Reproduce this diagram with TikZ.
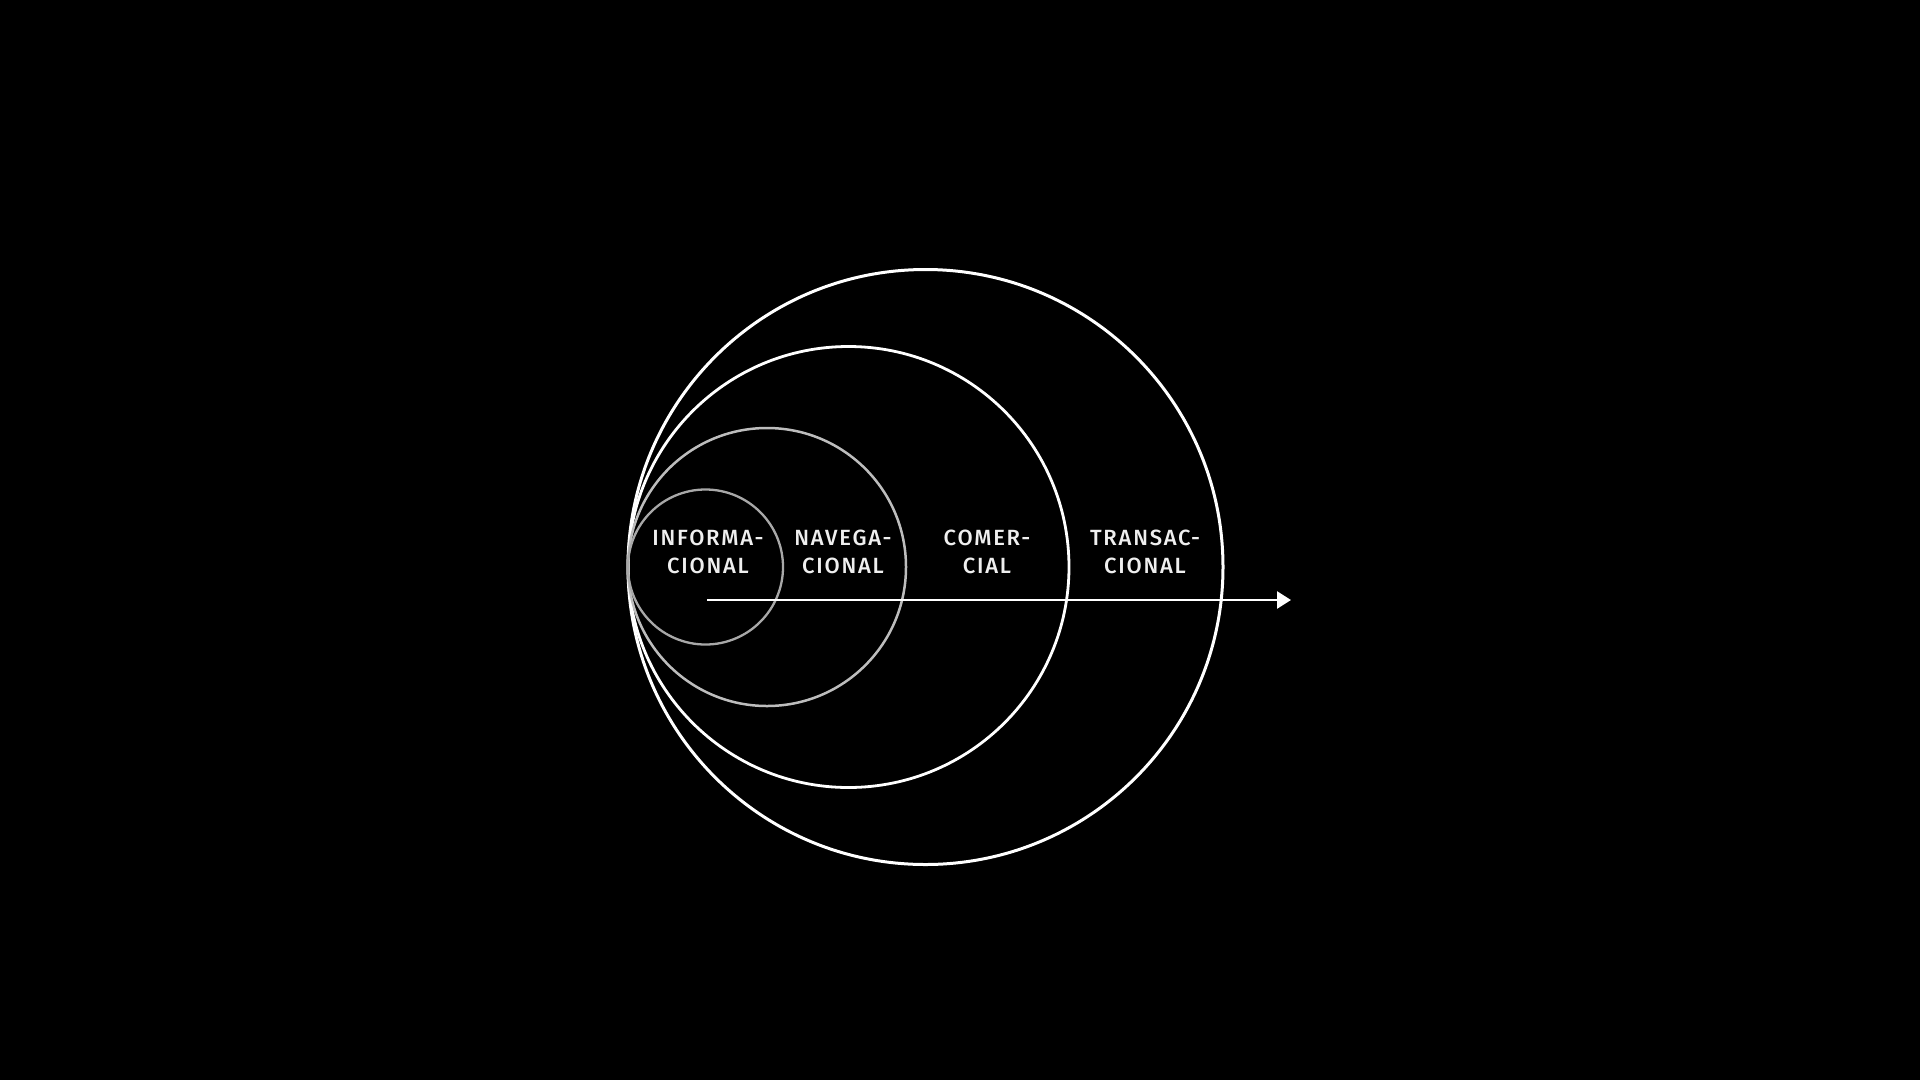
\documentclass[tikz,border=0pt]{standalone}
\usepackage{fontspec}
\setmainfont[LetterSpace=8, UprightFont={* Medium}]{Fira Sans}
\usetikzlibrary{arrows.meta}
\definecolor{ringA}{HTML}{A8A8A8}
\definecolor{ringB}{HTML}{BDBDBD}
\definecolor{txt}{HTML}{EFEFEF}
\tikzset{
  ring/.style={circle, draw, inner sep=0pt, minimum size=#1},
  lbl/.style={text=txt, align=center, font=\fontsize{22}{28}\selectfont, inner sep=0pt},
}
\begin{document}
\begin{tikzpicture}[x=1pt, y=-1pt]
\fill[black] (0,0) rectangle (1920,1080);
\useasboundingbox (0,0) rectangle (1920,1080);
\node[ring=595pt, draw=white, line width=3pt] (c4) at (925.5,567) {};
\node[ring=441pt, draw=white, line width=2.8pt] (c3) at (848.5,567) {};
\node[ring=278pt, draw=ringB, line width=2.5pt] (c2) at (767,567) {};
\node[ring=155pt, draw=ringA, line width=2.3pt] (c1) at (705.5,567) {};
\node[lbl] (t1) at (708,552) {INFORMA-\\CIONAL};
\node[lbl] (t2) at (843,552) {NAVEGA-\\CIONAL};
\node[lbl] (t3) at (987,552) {COMER-\\CIAL};
\node[lbl] (t4) at (1145,552) {TRANSAC-\\CIONAL};
\coordinate (s) at (707,600);
\coordinate (e) at (1291,600);
\draw[white, line width=2.6pt, -{Triangle[length=14pt, width=17pt]}] (s) -- (e);
\end{tikzpicture}
\end{document}
